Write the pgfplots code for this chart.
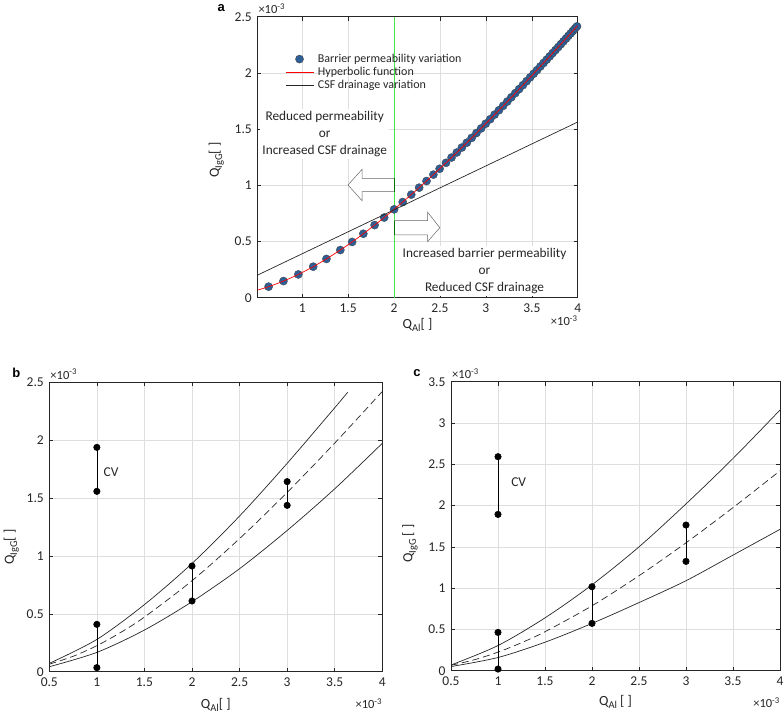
\documentclass[border=0pt]{standalone}
\usepackage{pgfplots}
\pgfplotsset{compat=1.18}
\usepackage{fontspec}
\setmainfont{Carlito}
\setsansfont{Liberation Sans}
\definecolor{mblue}{RGB}{45,95,150}
\definecolor{mgreen}{RGB}{70,230,70}
\definecolor{axgray}{RGB}{38,38,38}
\pgfplotsset{
 mystyle/.style={
  scale only axis, anchor=south west, clip mode=individual,
  grid=major, grid style={black!13, line width=0.5pt},
  axis line style={axgray, line width=0.6pt},
  tick align=inside, major tick length=4pt,
  tick style={axgray, line width=0.5pt},
  ticklabel style={font=\fontsize{13.5}{15}\selectfont, text=axgray},
  /pgf/number format/assume math mode=true,
  xticklabel style={yshift=-2.5pt},
  yticklabel style={xshift=-2pt},
 },
 lineleg/.style={legend image code/.code={\draw[##1] (0pt,0pt) -- (28pt,0pt);}},
 dotleg/.style={legend image code/.code={\draw[##1, mark repeat=2, mark phase=2] plot coordinates {(0pt,0pt) (14pt,0pt) (28pt,0pt)};}},
}
\newcommand{\lblfont}{\fontsize{14}{16}\selectfont}
\newcommand{\expo}{\fontsize{12.5}{14}\selectfont ×10\textsuperscript{-3}}
\newcommand{\sub}[1]{\raisebox{-0.5ex}{\fontsize{10.5}{10}\selectfont #1}}
\begin{document}
\begin{tikzpicture}
\useasboundingbox (0pt,0pt) rectangle (784pt,716pt);
% ---------------- panel a
\begin{axis}[mystyle, at={(257.3pt,418.3pt)}, width=320.4pt, height=281pt,
  xmin=0.51, xmax=4, ymin=0, ymax=2.5,
  xtick={1,1.5,2,2.5,3,3.5,4}, ytick={0,0.5,1,1.5,2,2.5},
  legend style={at={(rel axis cs:0.077,0.878)}, anchor=north west, draw=none, fill=none,
    font=\fontsize{12}{13}\selectfont, text=axgray, nodes={inner sep=1pt}, row sep=1.3pt,
    /tikz/every odd column/.append style={column sep=3pt}},
  legend cell align=left]
\addplot[mgreen, line width=0.8pt, forget plot] coordinates {(2,0) (2,2.5)};
\addplot[only marks, mark=*, mark size=4.1pt, mark options={fill=mblue, draw=black!75, line width=0.3pt}, dotleg]
 coordinates {
(0.633,0.098) (0.795,0.148) (0.957,0.207) (1.119,0.276) (1.263,0.345) (1.414,0.424)
(1.543,0.496) (1.665,0.569) (1.788,0.646) (1.892,0.713) (2.0,0.786) (2.094,0.851)
(2.187,0.917) (2.273,0.979) (2.353,1.038) (2.428,1.095) (2.496,1.147) (2.565,1.200)
(2.626,1.247) (2.683,1.292) (2.738,1.336) (2.792,1.379) (2.845,1.422) (2.897,1.465)
(2.948,1.506) (2.998,1.548) (3.047,1.588) (3.095,1.629) (3.142,1.668) (3.188,1.707)
(3.233,1.745) (3.277,1.783) (3.320,1.820) (3.362,1.856) (3.403,1.891) (3.443,1.926)
(3.482,1.960) (3.520,1.993) (3.557,2.025) (3.593,2.057) (3.628,2.088) (3.662,2.118)
(3.695,2.147) (3.727,2.176) (3.758,2.203) (3.788,2.230) (3.817,2.256) (3.845,2.281)
(3.872,2.305) (3.898,2.329) (3.923,2.351) (3.947,2.373) (3.970,2.394) (3.992,2.414)
};
\addlegendentry{Barrier permeability variation}
\addplot[red, line width=0.7pt, smooth, lineleg]
 coordinates {
(0.51,0.067) (0.633,0.098) (0.795,0.148) (0.957,0.207) (1.119,0.276) (1.263,0.345) (1.414,0.424)
(1.543,0.496) (1.665,0.569) (1.788,0.646) (1.892,0.713) (2.0,0.786) (2.187,0.917)
(2.353,1.038) (2.496,1.147) (2.626,1.247) (2.792,1.379) (2.998,1.548) (3.233,1.745)
(3.482,1.960) (3.727,2.176) (4.0,2.421)
};
\addlegendentry{Hyperbolic function}
\addplot[axgray, line width=0.7pt, lineleg]
 coordinates {(0.51,0.2) (4,1.563)};
\addlegendentry{CSF drainage variation}
% arrows
\draw[black!60, line width=0.5pt, fill=white] (axis cs:2,1.062) -- (axis cs:1.651,1.062) -- (axis cs:1.651,1.142)
  -- (axis cs:1.498,1.0025) -- (axis cs:1.651,0.863) -- (axis cs:1.651,0.943) -- (axis cs:2,0.943);
\draw[green!45!black, line width=0.7pt] (axis cs:2,1.062) -- (axis cs:2,0.943);
\draw[black!60, line width=0.5pt, fill=white] (axis cs:2,0.685) -- (axis cs:2.364,0.685) -- (axis cs:2.364,0.762)
  -- (axis cs:2.498,0.623) -- (axis cs:2.364,0.498) -- (axis cs:2.364,0.558) -- (axis cs:2,0.558);
\draw[green!45!black, line width=0.7pt] (axis cs:2,0.685) -- (axis cs:2,0.558);
\node[align=center, fill=white, inner sep=2pt, font=\fontsize{13.3}{17}\selectfont, text=axgray]
  at (axis cs:1.244,1.456) {Reduced permeability\\or\\Increased CSF drainage};
\node[align=center, fill=white, inner sep=2pt, font=\fontsize{13.3}{17}\selectfont, text=axgray]
  at (axis cs:2.985,0.238) {Increased barrier permeability\\or\\Reduced CSF drainage};
\node[anchor=south west, inner sep=0pt, text=axgray] at ([xshift=1pt,yshift=3pt]rel axis cs:0,1) {\expo};
\node[anchor=north east, inner sep=0pt, text=axgray] at ([yshift=-18pt]rel axis cs:1,0) {\expo};
\node[text=axgray, font=\lblfont] at ([yshift=-27pt]rel axis cs:0.5,0) {Q\sub{Al}[ ]};
\node[rotate=90, text=axgray, font=\lblfont] at ([xshift=-41pt]rel axis cs:0,0.49) {Q\sub{IgG}[ ]};
\node[font=\sffamily\bfseries\fontsize{13}{13}\selectfont] at ([xshift=-36pt,yshift=9pt]rel axis cs:0,1) {a};
\end{axis}
% ---------------- panel b
\begin{axis}[mystyle, at={(49.3pt,44.3pt)}, width=333pt, height=289.4pt,
  xmin=0.5, xmax=4, ymin=0, ymax=2.5,
  xtick={0.5,1,1.5,2,2.5,3,3.5,4}, ytick={0,0.5,1,1.5,2,2.5}]
\addplot[axgray, line width=0.7pt, smooth] coordinates {(0.5,0.072) (1,0.279) (1.5,0.58) (2,0.935) (2.5,1.345) (3,1.80) (3.5,2.28) (3.636,2.414)};
\addplot[axgray, line width=0.7pt, smooth, dash pattern=on 7pt off 4pt] coordinates {(0.5,0.065) (0.75,0.133) (1,0.225) (1.25,0.339) (1.5,0.472) (2,0.786) (2.5,1.150) (3,1.549) (3.5,1.975) (4,2.421)};
\addplot[axgray, line width=0.7pt, smooth] coordinates {(0.5,0.043) (1,0.167) (1.5,0.36) (2,0.605) (2.5,0.89) (3,1.22) (3.5,1.58) (4,1.973)};
\addplot[black, line width=0.6pt, mark=*, mark size=3.2pt] coordinates {(1,1.938) (1,1.558)};
\addplot[black, line width=0.6pt, mark=*, mark size=3.2pt] coordinates {(1,0.409) (1,0.035)};
\addplot[black, line width=0.6pt, mark=*, mark size=3.2pt] coordinates {(2,0.913) (2,0.611)};
\addplot[black, line width=0.6pt, mark=*, mark size=3.2pt] coordinates {(3,1.642) (3,1.437)};
\node[font=\fontsize{13.5}{13}\selectfont, text=axgray] at (axis cs:1.149,1.725) {CV};
\node[anchor=south west, inner sep=0pt, text=axgray] at ([xshift=1pt,yshift=3pt]rel axis cs:0,1) {\expo};
\node[anchor=north east, inner sep=0pt, text=axgray] at ([yshift=-27pt]rel axis cs:1,0) {\expo};
\node[text=axgray, font=\lblfont] at ([yshift=-33pt]rel axis cs:0.5,0) {Q\sub{Al}[ ]};
\node[rotate=90, text=axgray, font=\lblfont] at ([xshift=-38pt]rel axis cs:0,0.43) {Q\sub{IgG}[ ]};
\node[font=\sffamily\bfseries\fontsize{13}{13}\selectfont] at ([xshift=-33pt,yshift=9pt]rel axis cs:0,1) {b};
\end{axis}
% ---------------- panel c
\begin{axis}[mystyle, at={(451pt,45.3pt)}, width=329pt, height=289pt,
  xmin=0.5, xmax=4, ymin=0, ymax=3.5,
  xtick={0.5,1,1.5,2,2.5,3,3.5,4}, ytick={0,0.5,1,1.5,2,2.5,3,3.5}]
\addplot[axgray, line width=0.7pt, smooth] coordinates {(0.5,0.069) (1,0.305) (1.5,0.64) (2,1.04) (2.5,1.5) (3,2.02) (3.5,2.57) (4,3.157)};
\addplot[axgray, line width=0.7pt, smooth, dash pattern=on 7pt off 4pt] coordinates {(0.5,0.065) (0.75,0.133) (1,0.225) (1.25,0.339) (1.5,0.472) (2,0.786) (2.5,1.150) (3,1.549) (3.5,1.975) (4,2.421)};
\addplot[axgray, line width=0.7pt, smooth] coordinates {(0.5,0.05) (1,0.16) (1.5,0.345) (2,0.573) (2.5,0.825) (3,1.09) (3.5,1.40) (4,1.712)};
\addplot[black, line width=0.6pt, mark=*, mark size=3.2pt] coordinates {(1,2.592) (1,1.893)};
\addplot[black, line width=0.6pt, mark=*, mark size=3.2pt] coordinates {(1,0.464) (1,0.02)};
\addplot[black, line width=0.6pt, mark=*, mark size=3.2pt] coordinates {(2,1.017) (2,0.573)};
\addplot[black, line width=0.6pt, mark=*, mark size=3.2pt] coordinates {(3,1.764) (3,1.324)};
\node[font=\fontsize{13.5}{13}\selectfont, text=axgray] at (axis cs:1.22,2.28) {CV};
\node[anchor=south west, inner sep=0pt, text=axgray] at ([xshift=1pt,yshift=3pt]rel axis cs:0,1) {\expo};
\node[anchor=north east, inner sep=0pt, text=axgray] at ([yshift=-27pt]rel axis cs:1,0) {\expo};
\node[text=axgray, font=\lblfont] at ([yshift=-31pt]rel axis cs:0.5,0) {Q\sub{Al} [ ]};
\node[rotate=90, text=axgray, font=\lblfont] at ([xshift=-41pt]rel axis cs:0,0.44) {Q\sub{IgG} [ ]};
\node[font=\sffamily\bfseries\fontsize{13}{13}\selectfont] at ([xshift=-34pt,yshift=9pt]rel axis cs:0,1) {c};
\end{axis}
\end{tikzpicture}
\end{document}
